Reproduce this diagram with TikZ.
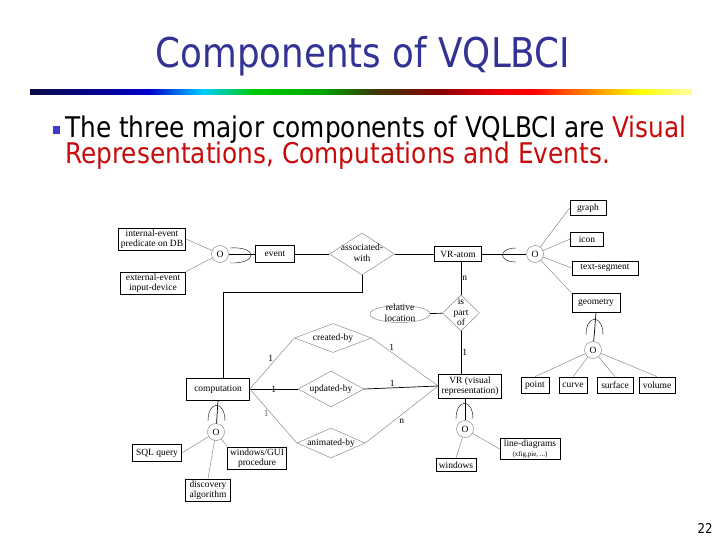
\documentclass[tikz,border=0pt]{standalone}
\usepackage{fontspec}
\setmainfont{Liberation Serif}
\newfontfamily\slidefont[FakeStretch=0.87]{DejaVu Sans}
\usetikzlibrary{shapes.geometric}

\definecolor{titleblue}{RGB}{51,51,150}
\definecolor{bulletblue}{RGB}{60,60,200}
\definecolor{slidered}{RGB}{200,10,10}
\definecolor{barnavy}{RGB}{10,10,70}

\pgfdeclarehorizontalshading{rainbowbar}{100bp}{color(0bp)=(barnavy); color(25bp)=(barnavy);
  color(34bp)=(blue!80!black); color(38bp)=(cyan!80!blue); color(42bp)=(green!80!black);
  color(47bp)=(green!65!black); color(51bp)=(olive!45!black); color(56bp)=(red!55!black);
  color(60bp)=(red!90!black); color(63bp)=(red); color(67bp)=(orange); color(71bp)=(yellow);
  color(75bp)=(yellow!35); color(100bp)=(yellow!35)}

\newcommand{\erfont}{\fontsize{9.5}{10.5}\selectfont}
% texto centrado que no cambia el tamaño del rombo
\newcommand{\rtext}[1]{\smash{\raisebox{-0.25em}{\makebox[0pt]{\begin{tabular}{@{}c@{}}#1\end{tabular}}}}}

\tikzset{
  ebox/.style={draw, line width=0.7pt, font=\erfont, align=center, inner xsep=2.5pt, inner ysep=1.5pt, minimum height=15pt},
  rel/.style={diamond, draw=black!45, line width=0.5pt, font=\erfont, inner sep=0pt},
  ocirc/.style={circle, draw=black!45, line width=0.5pt, font=\erfont, inner sep=0pt, minimum size=17pt},
  rline/.style={line width=0.7pt},
  link/.style={black!45, line width=0.5pt},
  card/.style={font=\erfont, inner sep=1pt}
}

\begin{document}
\begin{tikzpicture}[x=1pt, y=-1pt]
  \useasboundingbox (0,0) rectangle (720,540);

  % Titulo y barra de colores
  \node[font=\slidefont\fontsize{41}{48}\selectfont, text=titleblue, anchor=base] (title) at (363,68) {Components of VQLBCI};
  \fill[shading=rainbowbar] (30,90) rectangle (692,95);

  % Texto con viñeta
  \fill[bulletblue] (53,126) rectangle (60,134);
  \node[font=\slidefont\fontsize{28.5}{26}\selectfont, anchor=base west, inner sep=0pt] (line1) at (65,138)
    {The three major components of VQLBCI are \textcolor{slidered}{Visual}};
  \node[font=\slidefont\fontsize{28.5}{26}\selectfont, text=slidered, anchor=base west, inner sep=0pt] (line2) at (65,164)
    {Representations, Computations and Events.};

  % Eventos
  \node[ebox, minimum width=67pt] (intev) at (152,239) {internal-event\\predicate on DB};
  \node[ebox, minimum width=65pt] (extev) at (153,283) {external-event\\input-device};
  \node[ocirc] (evo) at (220,254) {O};
  \node[ebox, minimum width=39pt, minimum height=17pt] (event) at (275,254) {event};
  \node[rel, minimum width=65pt, minimum height=42pt] (assoc) at (362,254) {\rtext{associated-\\with}};

  % VR-atom y sus subclases
  \node[ebox, minimum width=47pt] (vratom) at (458,254) {VR-atom};
  \node[ocirc] (vro) at (535,254) {O};
  \node[ebox, minimum width=36pt] (graph) at (588,208) {graph};
  \node[ebox, minimum width=33pt, minimum height=14pt] (icon) at (587,239) {icon};
  \node[ebox, minimum width=66pt, minimum height=14pt] (textseg) at (605,268) {text-segment};
  \node[ebox, minimum width=48pt, minimum height=19pt] (geom) at (596,303) {geometry};

  % is part of
  \node[rel, minimum width=37pt, minimum height=36pt] (ispart) at (461,313) {\rtext{is\\part\\of}};
  \node[ellipse, draw=black!45, line width=0.5pt, font=\erfont, inner sep=0pt, minimum width=60pt, minimum height=17pt] (relloc) at (400,314) {\rtext{relative\\location}};

  % Computacion y representacion visual
  \node[ebox, minimum width=63pt, minimum height=24pt] (vr) at (470,386) {VR (visual\\representation)};
  \node[ebox, minimum width=63pt, minimum height=22pt] (comp) at (218,389) {computation};
  \node[rel, minimum width=77pt, minimum height=29pt] (created) at (333,338) {\rtext{created-by}};
  \node[rel, minimum width=66pt, minimum height=36pt] (updated) at (331,389) {\rtext{updated-by}};
  \node[rel, minimum width=68pt, minimum height=30pt] (animated) at (331,443) {\rtext{animated-by}};

  % Subclases de computation
  \node[ocirc] (compo) at (216,432) {O};
  \node[ebox, minimum width=49pt, minimum height=17pt] (sql) at (157,453) {SQL query};
  \node[ebox, minimum width=58pt] (wingui) at (257,458) {windows/GUI\\procedure};
  \node[ebox, minimum width=45pt] (discov) at (208,490) {discovery\\algorithm};

  % Subclases de VR
  \node[ocirc] (vrco) at (465,429) {O};
  \node[ebox, minimum width=40pt, minimum height=13pt] (windows) at (456,465) {windows};
  \node[ebox, minimum width=60pt] (linediag) at (530,449) {line-diagrams\\{\fontsize{7}{8}\selectfont (xfig,pie, ...)}};

  % Subclases de geometry
  \node[ocirc] (geomo) at (593,350) {O};
  \node[ebox, minimum width=28pt, minimum height=16pt] (point) at (535,385) {point};
  \node[ebox, minimum width=28pt, minimum height=16pt] (curve) at (573,385) {curve};
  \node[ebox, minimum width=36pt, minimum height=16pt] (surface) at (615,385) {surface};
  \node[ebox, minimum width=36pt, minimum height=16pt] (volume) at (657,385) {volume};

  % Conexiones de eventos
  \draw[link] (evo) -- (intev.east);
  \draw[link] (evo) -- (extev.north east);
  \draw[rline] (evo) -- (event);
  \draw (230,248) .. controls (258,246) and (258,264) .. (230,263);
  \draw[rline] (event) -- (assoc);
  \draw[rline] (assoc) -- (vratom);
  \coordinate (bend) at (223,292);
  \draw[rline] (assoc.south) |- (bend) -- (bend |- comp.north);

  % Conexiones de VR-atom
  \draw[rline] (vratom) -- (vro);
  \draw (516,248) .. controls (498,248) and (498,262) .. (516,262);
  \draw[link] (vro) -- (graph.west);
  \draw[link] (vro) -- (icon.west);
  \draw[link] (vro) -- (textseg.west);
  \draw[link] (vro) -- (geom.north west);
  \draw[rline] (ispart.north |- vratom.south) -- (ispart.north) node[card, midway, right] {n};
  \draw[rline] (relloc) -- (ispart);
  \draw[rline] (ispart.south) -- (ispart.south |- vr.north) node[card, midway, right] {1};

  % Relaciones entre computation y VR
  \draw[link] (comp.east) -- (created.west) node[card, pos=0.6, left=2pt, black] {1};
  \draw[link] (created.east) -- (vr.west) node[card, pos=0.3, above=1pt, black] {1};
  \draw[rline] (comp.east) -- (updated.west) node[card, pos=0.5, black] {1};
  \draw[rline] (updated.east) -- (vr.west) node[card, pos=0.38, above] {1};
  \draw[link] (comp.east) -- (animated.west) node[card, pos=0.45, left=1pt, black!60] {1};
  \draw[link] (animated.east) -- (vr.west) node[card, pos=0.45, below right, black] {n};

  % Subclases de computation
  \draw[rline] (comp.south) -- (compo);
  \draw (208,421) .. controls (208,400) and (225,400) .. (225,421);
  \draw[link] (compo) -- (sql.east);
  \draw[link] (compo) -- (discov.north);
  \draw[link] (compo) -- (wingui.north west);

  % Subclases de VR
  \draw[rline] (vrco |- vr.south) -- (vrco);
  \draw (456,419) .. controls (456,398) and (473,398) .. (473,419);
  \draw[link] (vrco) -- (windows.north);
  \draw[link] (vrco) -- (linediag.west);

  % Subclases de geometry
  \draw[rline] (geom.south) -- (geomo);
  \draw (586,335) .. controls (586,314) and (603,314) .. (603,335);
  \draw[link] (geomo) -- (point.north);
  \draw[link] (geomo) -- (curve.north);
  \draw[link] (geomo) -- (surface.north);
  \draw[link] (geomo) -- (volume.north);

  % Numero de pagina
  \node[font=\slidefont\fontsize{13.5}{16}\selectfont, anchor=base] (pagenum) at (705,533) {22};
\end{tikzpicture}
\end{document}
